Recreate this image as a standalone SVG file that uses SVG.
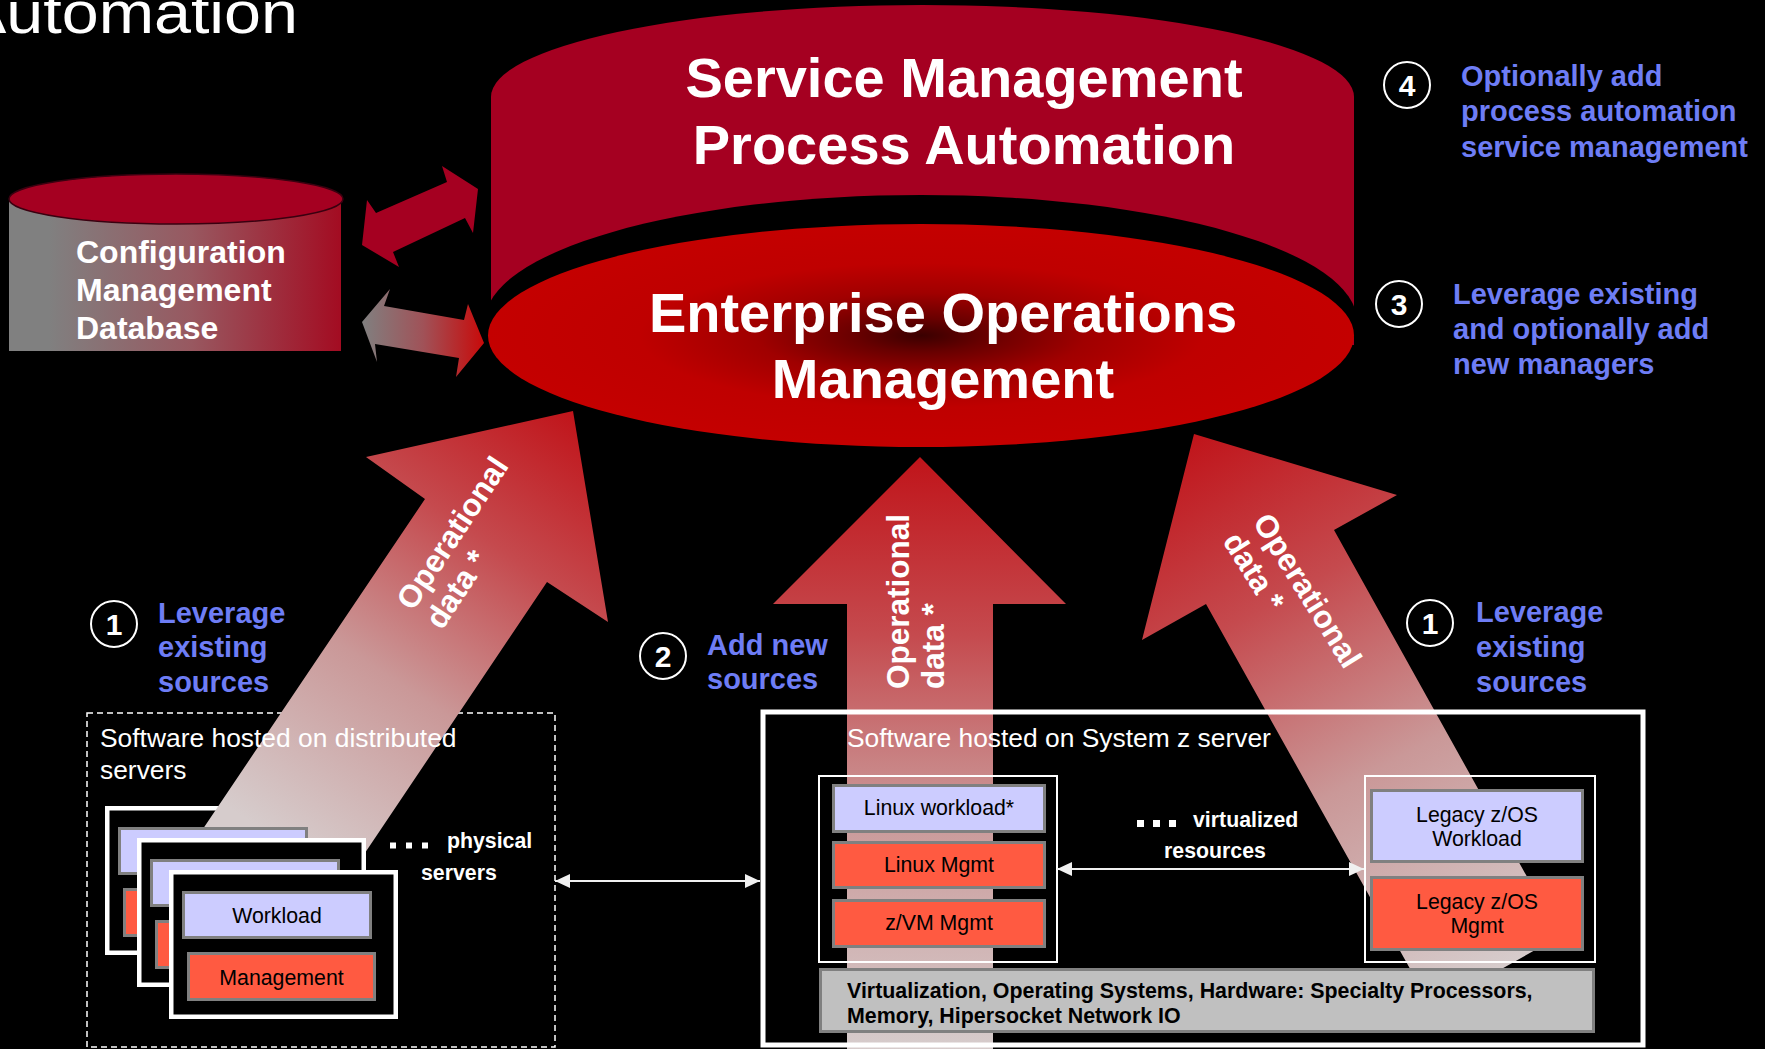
<svg xmlns="http://www.w3.org/2000/svg" width="1765" height="1049" viewBox="0 0 1765 1049">
<defs>
<style>
text{font-family:"Liberation Sans",Arial,Helvetica,sans-serif;}
.big{font-weight:bold;font-size:56px;fill:#fff;text-anchor:middle;}
.cmdbt{font-weight:bold;font-size:32px;fill:#fff;}
.note{font-weight:bold;font-size:29px;fill:#6e7df5;}
.num{font-weight:bold;font-size:30px;fill:#fff;text-anchor:middle;}
.circ{fill:#000;stroke:#fff;stroke-width:2;}
.flow{font-weight:bold;font-size:31.5px;fill:#fff;}
.lbl{font-size:26.4px;fill:#fff;}
.blk{font-size:21.3px;fill:#000;text-anchor:middle;}
.bar{font-weight:bold;font-size:21.4px;fill:#000;}
.wl{fill:#ccccff;stroke:#808080;stroke-width:3;}
.mg{fill:#ff5a41;stroke:#808080;stroke-width:3;}
.frame{fill:#000;stroke:#fff;stroke-width:4.5;}
.inner{fill:none;stroke:#fff;stroke-width:2;}
.bw{font-weight:bold;font-size:21.3px;fill:#fff;}
.dot{fill:#fff;}
.conn{stroke:#f0f0f0;stroke-width:2;fill:none;marker-start:url(#ah);marker-end:url(#ah);}
</style>
<radialGradient id="gEom" cx="0.5" cy="0.5" r="0.5">
<stop offset="0" stop-color="#3a0000"/>
<stop offset="0.15" stop-color="#680000"/>
<stop offset="0.38" stop-color="#a00000"/>
<stop offset="0.65" stop-color="#bf0000"/>
<stop offset="1" stop-color="#c40000"/>
</radialGradient>
<linearGradient id="gCmdb" x1="0" y1="0" x2="1" y2="0">
<stop offset="0" stop-color="#808080"/>
<stop offset="0.12" stop-color="#808080"/>
<stop offset="0.55" stop-color="#985860"/>
<stop offset="1" stop-color="#a30c22"/>
</linearGradient>
<linearGradient id="gCmdbArrow" gradientUnits="userSpaceOnUse" x1="362" y1="0" x2="484" y2="0">
<stop offset="0" stop-color="#808080"/>
<stop offset="0.5" stop-color="#a05258"/>
<stop offset="1" stop-color="#c80a0a"/>
</linearGradient>
<linearGradient id="gFlowL" gradientUnits="userSpaceOnUse" x1="573" y1="411" x2="285" y2="845">
<stop offset="0" stop-color="#c0141a"/>
<stop offset="0.3" stop-color="#c54a4e"/>
<stop offset="0.62" stop-color="#ca9898"/>
<stop offset="1" stop-color="#d6cccc"/>
</linearGradient>
<linearGradient id="gFlowC" gradientUnits="userSpaceOnUse" x1="920" y1="457" x2="920" y2="1049">
<stop offset="0" stop-color="#c0141a"/>
<stop offset="0.3" stop-color="#c54a4e"/>
<stop offset="0.6" stop-color="#ca9898"/>
<stop offset="1" stop-color="#d6cccc"/>
</linearGradient>
<linearGradient id="gFlowR" gradientUnits="userSpaceOnUse" x1="1194" y1="434" x2="1490" y2="975">
<stop offset="0" stop-color="#c0141a"/>
<stop offset="0.3" stop-color="#c54a4e"/>
<stop offset="0.62" stop-color="#ca9898"/>
<stop offset="1" stop-color="#d6cccc"/>
</linearGradient>
<marker id="ah" markerUnits="userSpaceOnUse" markerWidth="15" markerHeight="14" viewBox="0 0 15 14" refX="15" refY="7" orient="auto-start-reverse">
<path d="M0,0 L15,7 L0,14 z" fill="#f0f0f0"/>
</marker>
</defs>

<rect x="0" y="0" width="1765" height="1049" fill="#000"/>
<text x="-38" y="33" font-size="60" fill="#fff" textLength="336" lengthAdjust="spacingAndGlyphs">Automation</text>

<g id="service-management">
<path d="M491,97 A431.5,92 0 0 1 1354,97 L1354,345 L491,345 Z" fill="#a50021"/>
<text class="big" x="964" y="97">Service Management</text>
<text class="big" x="964" y="164">Process Automation</text>
</g>

<g id="enterprise-ops">
<ellipse cx="921" cy="321" rx="436" ry="126" fill="#000"/>
<ellipse cx="921" cy="335.5" rx="433" ry="111.5" fill="url(#gEom)"/>
<text class="big" x="943" y="332">Enterprise Operations</text>
<text class="big" x="943" y="398">Management</text>
</g>

<g id="cmdb">
<rect x="9" y="199" width="332" height="152" fill="url(#gCmdb)"/>
<ellipse cx="176" cy="199" rx="167" ry="25" fill="#a50021" stroke="#3a0010" stroke-width="1.5"/>
<text class="cmdbt" x="76" y="263">Configuration</text>
<text class="cmdbt" x="76" y="301">Management</text>
<text class="cmdbt" x="76" y="339">Database</text>
</g>

<g id="distributed-frame">
<rect x="87" y="713" width="468" height="334" fill="none" stroke="#fff" stroke-width="1.5" stroke-dasharray="6 4"/>
</g>
<g id="server-1-frame">
<rect class="frame" x="107.25" y="808.25" width="224.5" height="144.5"/>
</g>

<g id="flows">
<polygon points="573,411 608,622 547,582 353.5,870 175.3,870 425,499 366,457" fill="url(#gFlowL)"/>
<text class="flow" transform="translate(413,612) rotate(-56.5)">Operational</text>
<text class="flow" transform="translate(442,631) rotate(-56.5)">data *</text>
<polygon points="920,457 1066,604 993,604 993,1049 847,1049 847,604 773,604" fill="url(#gFlowC)"/>
<text class="flow" transform="translate(909,689) rotate(-90)">Operational</text>
<text class="flow" transform="translate(944,689) rotate(-90)">data *</text>
<polygon points="1194,434 1397,495 1334,530 1560,936 1432,1008 1206,604 1142,640" fill="url(#gFlowR)"/>
<text class="flow" transform="translate(1252,522) rotate(58)">Operational</text>
<text class="flow" transform="translate(1222,541) rotate(58)">data *</text>
</g>

<g id="distributed-label">
<text class="lbl" x="100" y="747">Software hosted on distributed</text>
<text class="lbl" x="100" y="779">servers</text>
</g>
<g id="server-1">
<rect class="wl" x="119.5" y="828.5" width="187" height="45"/>
<rect class="mg" x="124.5" y="889.5" width="186" height="46"/>
</g>
<g id="server-2">
<rect class="frame" x="139.25" y="840.25" width="224.5" height="144.5"/>
<rect class="wl" x="151.5" y="860.5" width="187" height="45"/>
<rect class="mg" x="156.5" y="921.5" width="186" height="46"/>
</g>
<g id="server-3">
<rect class="frame" x="171.25" y="872.25" width="224.5" height="144.5"/>
<rect class="wl" x="183.5" y="892.5" width="187" height="45"/>
<rect class="mg" x="188.5" y="953.5" width="186" height="46"/>
<text class="blk" x="277" y="923">Workload</text>
<text class="blk" x="281.5" y="985">Management</text>
</g>
<g id="physical-servers">
<rect class="dot" x="390" y="842.5" width="6" height="6"/>
<rect class="dot" x="406" y="842.5" width="6" height="6"/>
<rect class="dot" x="422" y="842.5" width="6" height="6"/>
<text class="bw" x="447" y="848">physical</text>
<text class="bw" x="421" y="880">servers</text>
</g>

<g id="system-z">
<rect x="763" y="712" width="880" height="333" fill="none" stroke="#fff" stroke-width="5"/>
<text class="lbl" x="847" y="747">Software hosted on System z server</text>
</g>
<g id="linux-guest">
<rect class="inner" x="819" y="776" width="238" height="186"/>
<rect class="wl" x="833.5" y="785.5" width="211" height="46"/>
<rect class="mg" x="833.5" y="842.5" width="211" height="45"/>
<rect class="mg" x="833.5" y="900.5" width="211" height="46"/>
<text class="blk" x="939" y="815">Linux workload*</text>
<text class="blk" x="939" y="872">Linux Mgmt</text>
<text class="blk" x="939" y="930">z/VM Mgmt</text>
</g>
<g id="zos-lpar">
<rect class="inner" x="1365" y="776" width="230" height="186"/>
<rect class="wl" x="1371.5" y="790.5" width="211" height="71"/>
<rect class="mg" x="1371.5" y="877.5" width="211" height="72"/>
<text class="blk" x="1477" y="822">Legacy z/OS</text>
<text class="blk" x="1477" y="846">Workload</text>
<text class="blk" x="1477" y="909">Legacy z/OS</text>
<text class="blk" x="1477" y="933">Mgmt</text>
</g>
<g id="virtualized-resources">
<rect class="dot" x="1137" y="820" width="7" height="7"/>
<rect class="dot" x="1153" y="820" width="7" height="7"/>
<rect class="dot" x="1169" y="820" width="7" height="7"/>
<text class="bw" x="1193" y="827">virtualized</text>
<text class="bw" x="1164" y="858">resources</text>
</g>
<g id="hardware-bar">
<rect x="820.5" y="969.5" width="773" height="62" fill="#c0c0c0" stroke="#808080" stroke-width="3"/>
<text class="bar" x="847" y="998">Virtualization, Operating Systems, Hardware: Specialty Processors,</text>
<text class="bar" x="847" y="1023">Memory, Hipersocket Network IO</text>
</g>

<g id="note-4">
<circle class="circ" cx="1407" cy="85" r="23"/>
<text class="num" x="1407" y="96">4</text>
<text class="note" x="1461" y="86">Optionally add</text>
<text class="note" x="1461" y="121">process automation</text>
<text class="note" x="1461" y="157">service management</text>
</g>
<g id="note-3">
<circle class="circ" cx="1399" cy="304" r="23"/>
<text class="num" x="1399" y="315">3</text>
<text class="note" x="1453" y="304">Leverage existing</text>
<text class="note" x="1453" y="339">and optionally add</text>
<text class="note" x="1453" y="374">new managers</text>
</g>
<g id="note-1-left">
<circle class="circ" cx="114" cy="624" r="23"/>
<text class="num" x="114" y="635">1</text>
<text class="note" x="158" y="623">Leverage</text>
<text class="note" x="158" y="657">existing</text>
<text class="note" x="158" y="692">sources</text>
</g>
<g id="note-2">
<circle class="circ" cx="663" cy="656" r="23"/>
<text class="num" x="663" y="667">2</text>
<text class="note" x="707" y="655">Add new</text>
<text class="note" x="707" y="689">sources</text>
</g>
<g id="note-1-right">
<circle class="circ" cx="1430" cy="623" r="23"/>
<text class="num" x="1430" y="634">1</text>
<text class="note" x="1476" y="622">Leverage</text>
<text class="note" x="1476" y="657">existing</text>
<text class="note" x="1476" y="692">sources</text>
</g>

<g id="connectors">
<polygon points="362,245 367,200 376,213 447,182 442,166 478,189 473,233 465,218 393,252 399,267" fill="#a50021"/>
<polygon points="362,322 390,289 384,306 464,320 468,304 484,343 456,377 459,358 375,344 377,362" fill="url(#gCmdbArrow)"/>
<line class="conn" x1="555" y1="881" x2="760" y2="881"/>
<line class="conn" x1="1057" y1="869" x2="1364" y2="869"/>
</g>
</svg>
